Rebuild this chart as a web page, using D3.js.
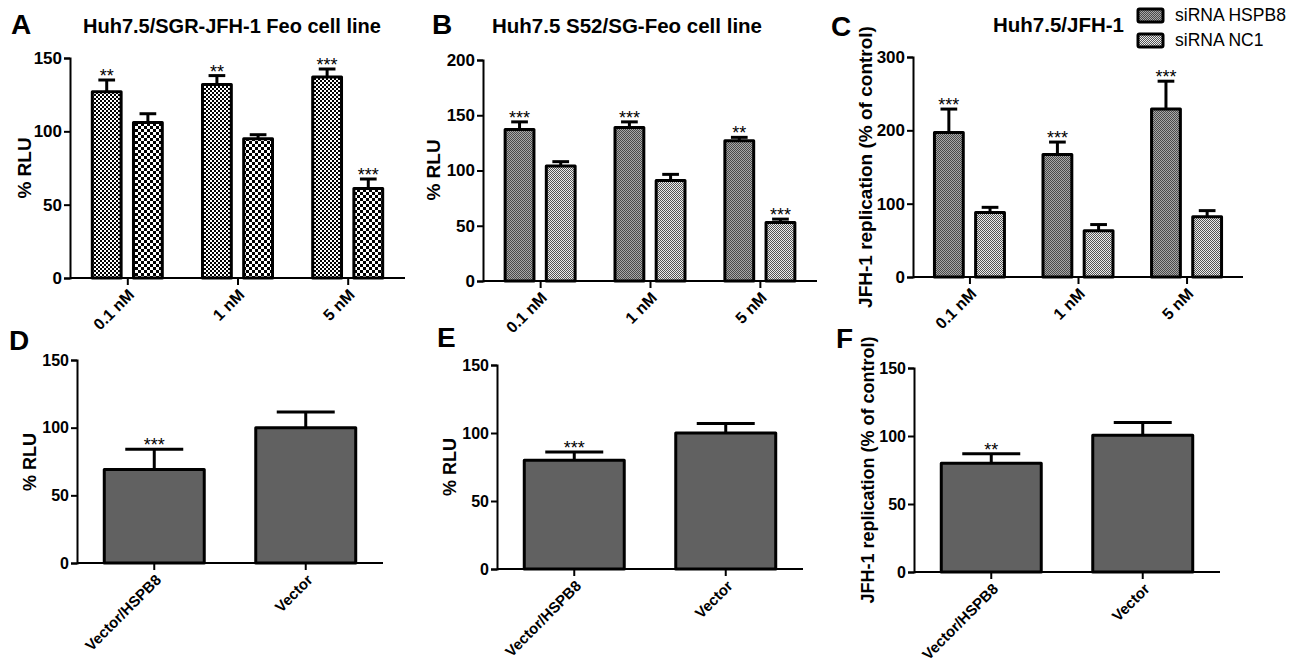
<!DOCTYPE html>
<meta charset="utf-8">
<head>
  <title>HSPB8 siRNA / vector panels</title>
</head>
<style>
  html, body {
    margin: 0;
    padding: 0;
    background: #fff;
    overflow: hidden;
  }
  svg text {
    font-family: "Liberation Sans", Arial, Helvetica, sans-serif;
  }
  .axis path, .axis line {
    stroke: #000;
    stroke-width: 2;
  }
  .axis text {
    font-weight: bold;
    fill: #000;
  }
</style>
<body>
<script src="https://d3js.org/d3.v7.min.js"></script>
<script>
// categories and series
var doseCategories = ['0.1 nM', '1 nM', '5 nM'];
var seriesNames = ['siRNA HSPB8', 'siRNA NC1'];
var vectorCategories = ['Vector/HSPB8', 'Vector'];

// panel A  Huh7.5/SGR-JFH-1 Feo
var aHSPB8 = [127, 132, 137];
var aHSPB8Err = [8, 6, 5.5];
var aNC1 = [106, 95, 61];
var aNC1Err = [6, 2.7, 6.5];
var aSig = [['**', ''], ['**', ''], ['***', '***']];

// panel B  Huh7.5 S52/SG-Feo
var bHSPB8 = [137, 139, 127];
var bHSPB8Err = [7, 5, 3];
var bNC1 = [104, 91, 53];
var bNC1Err = [4, 5.5, 3];
var bSig = [['***', ''], ['***', ''], ['**', '***']];

// panel C  Huh7.5/JFH-1
var cHSPB8 = [197, 167, 229];
var cHSPB8Err = [32, 17, 38];
var cNC1 = [88, 63, 82];
var cNC1Err = [7, 8.5, 8.5];
var cSig = [['***', ''], ['***', ''], ['***', '']];

// panels D, E, F
var dValues = [69, 100];
var dErr = [15, 11.5];
var dSig = ['***', ''];
var eValues = [80, 100];
var eErr = [6, 7];
var eSig = ['***', ''];
var fValues = [80, 100.5];
var fErr = [7, 9.5];
var fSig = ['**', ''];

var svg = d3.select('body').append('svg')
  .attr('width', 1304)
  .attr('height', 664);

// fill patterns
var defs = svg.append('defs');
function checker(id, size, c1, c2) {
  var p = defs.append('pattern')
    .attr('id', id)
    .attr('patternUnits', 'userSpaceOnUse')
    .attr('width', size * 2)
    .attr('height', size * 2);
  p.append('rect').attr('width', size * 2).attr('height', size * 2).attr('fill', c2);
  p.append('rect').attr('width', size).attr('height', size).attr('fill', c1);
  p.append('rect').attr('x', size).attr('y', size).attr('width', size).attr('height', size).attr('fill', c1);
}
checker('fineCheck', 2, '#000', '#fff');
checker('coarseCheck', 3, '#000', '#fff');
checker('grayDark', 1, '#4a4a4a', '#a8a8a8');
checker('grayLight', 1, '#555', '#ececec');

function letter(txt, x, y) {
  svg.append('text')
    .attr('x', x).attr('y', y)
    .attr('font-size', 28)
    .attr('font-weight', 'bold')
    .text(txt);
}

function title(txt, x, y, size) {
  svg.append('text')
    .attr('x', x).attr('y', y)
    .attr('font-size', size)
    .attr('font-weight', 'bold')
    .text(txt);
}

function yLabel(txt, x, y, size) {
  svg.append('text')
    .attr('transform', 'translate(' + x + ',' + y + ') rotate(-90)')
    .attr('text-anchor', 'middle')
    .attr('dominant-baseline', 'central')
    .attr('font-size', size)
    .attr('font-weight', 'bold')
    .text(txt);
}

function axes(o, x, y, tickFont, labelFont) {
  var yAxis = d3.axisLeft(y)
    .tickValues(d3.range(0, o.yMax + 1, o.yStep))
    .tickSizeOuter(0)
    .tickSize(6)
    .tickPadding(2);
  svg.append('g')
    .attr('class', 'axis')
    .attr('transform', 'translate(' + o.left + ',0)')
    .call(yAxis)
    .selectAll('text').attr('font-size', tickFont);

  var xAxis = d3.axisBottom(x).tickSizeOuter(0).tickSize(7).tickFormat('');
  var gx = svg.append('g')
    .attr('class', 'axis')
    .attr('transform', 'translate(0,' + o.bottom + ')')
    .call(xAxis);
  gx.select('.domain').attr('d', 'M' + o.left + ',0H' + o.right);

  svg.append('g').selectAll('text')
    .data(x.domain())
    .join('text')
    .attr('transform', function(d) {
      var cx = x(d) + (x.bandwidth ? x.bandwidth() / 2 : 0);
      return 'translate(' + (cx + 4) + ',' + (o.bottom + 14) + ') rotate(-45)';
    })
    .attr('text-anchor', 'end')
    .attr('dominant-baseline', 'central')
    .attr('font-size', labelFont)
    .attr('font-weight', 'bold')
    .text(function(d) { return d; });
}

function drawBar(g, x0, w, y, val, err, sig, fill) {
  var capW = w * 0.58;
  var cx = x0 + w / 2;
  g.append('line')
    .attr('x1', cx).attr('x2', cx)
    .attr('y1', y(val)).attr('y2', y(val + err))
    .attr('stroke', '#000').attr('stroke-width', 3);
  g.append('line')
    .attr('x1', cx - capW / 2).attr('x2', cx + capW / 2)
    .attr('y1', y(val + err)).attr('y2', y(val + err))
    .attr('stroke', '#000').attr('stroke-width', 3);
  g.append('rect')
    .attr('x', x0).attr('y', y(val))
    .attr('width', w).attr('height', y(0) - y(val))
    .attr('fill', fill)
    .attr('stroke', '#000')
    .attr('stroke-width', 3)
    .attr('stroke-linejoin', 'round');
  if (sig) {
    g.append('text')
      .attr('x', cx).attr('y', y(val + err) + 2)
      .attr('text-anchor', 'middle')
      .attr('font-size', 18)
      .text(sig);
  }
}

function grouped(o) {
  var x = d3.scalePoint().domain(doseCategories).range([o.left, o.right]).padding(0.52);
  var sub = d3.scaleBand().domain(seriesNames).range([-35, 35]).paddingInner(0.3);
  var y = d3.scaleLinear().domain([0, o.yMax]).range([o.bottom, o.top]);
  var g = svg.append('g');
  doseCategories.forEach(function(cat, i) {
    o.series.forEach(function(s, j) {
      drawBar(g, x(cat) + sub(seriesNames[j]), sub.bandwidth(), y,
        s.values[i], s.err[i], o.sig[i][j], s.fill);
    });
  });
  axes(o, x, y, 17, 16);
}

function single(o) {
  var x = d3.scaleBand().domain(vectorCategories).range([o.left, o.right])
    .paddingInner(0.34).paddingOuter(0.18);
  var y = d3.scaleLinear().domain([0, o.yMax]).range([o.bottom, o.top]);
  var g = svg.append('g');
  vectorCategories.forEach(function(cat, i) {
    drawBar(g, x(cat), x.bandwidth(), y, o.values[i], o.err[i], o.sig[i], '#616161');
  });
  axes(o, x, y, 16, 15);
}

// top row
letter('A', 11, 34);
title('Huh7.5/SGR-JFH-1 Feo cell line', 83, 33, 20);
yLabel('% RLU', 24, 168, 19);
grouped({left: 70, right: 405, top: 58, bottom: 278, yMax: 150, yStep: 50, sig: aSig,
  series: [{values: aHSPB8, err: aHSPB8Err, fill: 'url(#fineCheck)'},
           {values: aNC1, err: aNC1Err, fill: 'url(#coarseCheck)'}]});

letter('B', 432, 34);
title('Huh7.5 S52/SG-Feo cell line', 492, 33, 20.5);
yLabel('% RLU', 433, 170, 19);
grouped({left: 483, right: 817, top: 60, bottom: 281, yMax: 200, yStep: 50, sig: bSig,
  series: [{values: bHSPB8, err: bHSPB8Err, fill: 'url(#grayDark)'},
           {values: bNC1, err: bNC1Err, fill: 'url(#grayLight)'}]});

letter('C', 831, 36);
title('Huh7.5/JFH-1', 993, 32, 20.5);
yLabel('JFH-1 replication (% of control)', 865, 167, 19);
grouped({left: 913, right: 1243, top: 57, bottom: 277, yMax: 300, yStep: 100, sig: cSig,
  series: [{values: cHSPB8, err: cHSPB8Err, fill: 'url(#grayDark)'},
           {values: cNC1, err: cNC1Err, fill: 'url(#grayLight)'}]});

// legend
var legend = svg.append('g').attr('transform', 'translate(1138,9)');
legend.selectAll('rect')
  .data(seriesNames)
  .join('rect')
  .attr('x', 0)
  .attr('y', function(d, i) { return i * 25; })
  .attr('width', 25).attr('height', 13)
  .attr('rx', 1.5)
  .attr('fill', function(d, i) { return i ? 'url(#grayLight)' : 'url(#grayDark)'; })
  .attr('stroke', '#000').attr('stroke-width', 3);
legend.selectAll('text')
  .data(seriesNames)
  .join('text')
  .attr('x', 37)
  .attr('y', function(d, i) { return i * 25 + 12; })
  .attr('font-size', 17.5)
  .text(function(d) { return d; });

// bottom row
letter('D', 9, 350);
yLabel('% RLU', 30, 462, 18);
single({left: 77, right: 383, top: 360, bottom: 563, yMax: 150, yStep: 50,
  values: dValues, err: dErr, sig: dSig});

letter('E', 437, 347);
yLabel('% RLU', 450, 467, 18);
single({left: 497, right: 803, top: 365, bottom: 569, yMax: 150, yStep: 50,
  values: eValues, err: eErr, sig: eSig});

letter('F', 836, 348);
yLabel('JFH-1 replication (% of control)', 868, 470, 18);
single({left: 914, right: 1220, top: 368, bottom: 572, yMax: 150, yStep: 50,
  values: fValues, err: fErr, sig: fSig});
</script>
</body>
